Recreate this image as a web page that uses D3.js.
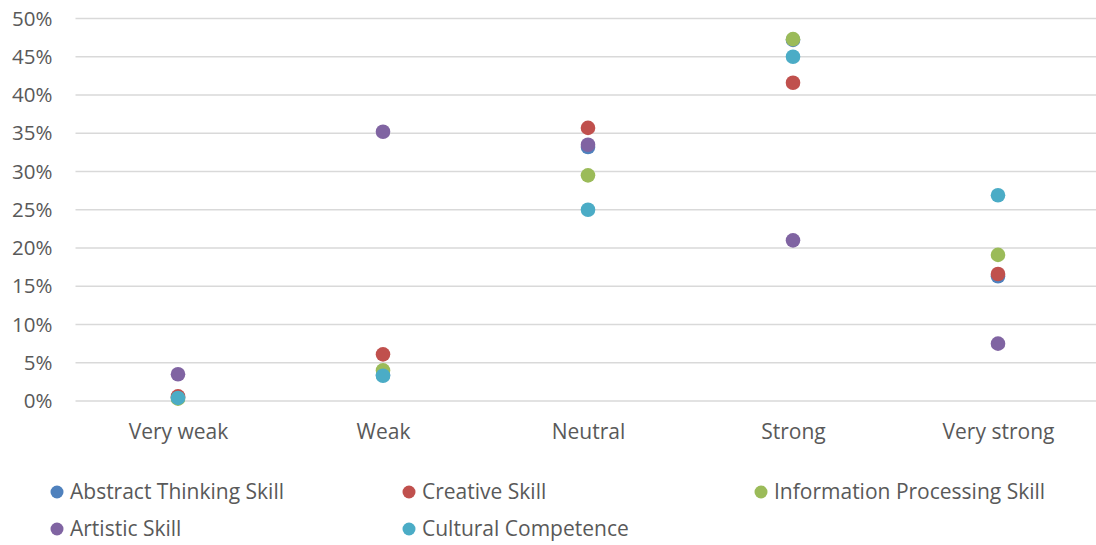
<!DOCTYPE html>
<html>
<head>
<meta charset="utf-8">
<script src="https://cdn.jsdelivr.net/npm/d3@7"></script>
<style>
  html, body { margin: 0; padding: 0; background: #fff; }
  svg { display: block; font-family: "Open Sans", "Noto Sans", sans-serif; }
</style>
</head>
<body>
<svg id="chart" width="1096" height="545"></svg>
<script>
// Response categories along the x axis
const categories = ["Very weak", "Weak", "Neutral", "Strong", "Very strong"];

// Share of respondents per category (%) for each skill
const abstractThinking = [0.5, 3.4, 33.2, 47.2, 16.3];
const creative         = [0.6, 6.1, 35.7, 41.6, 16.6];
const infoProcessing   = [0.3, 4.0, 29.5, 47.3, 19.1];
const artistic         = [3.5, 35.2, 33.5, 21.0, 7.5];
const cultural         = [0.4, 3.3, 25.0, 45.0, 26.9];

const seriesNames  = ["Abstract Thinking Skill", "Creative Skill", "Information Processing Skill", "Artistic Skill", "Cultural Competence"];
const seriesValues = [abstractThinking, creative, infoProcessing, artistic, cultural];
const seriesColors = ["#4F81BD", "#C0504D", "#9BBB59", "#8064A2", "#4BACC6"];

const yTicks = [0, 5, 10, 15, 20, 25, 30, 35, 40, 45, 50];

const svg = d3.select("#chart");
const plotLeft = 75.5, plotRight = 1100.5, plotTop = 18.5, plotBottom = 401;
const labelFont = "'Open Sans', sans-serif";

const x = d3.scalePoint().domain(categories).range([plotLeft, plotRight]).padding(0.5);
const y = d3.scaleLinear().domain([0, 50]).range([plotBottom, plotTop]);

// Horizontal gridlines
svg.append("g")
  .selectAll("line")
  .data(yTicks)
  .join("line")
  .attr("x1", plotLeft).attr("x2", 1096)
  .attr("y1", d => y(d)).attr("y2", d => y(d))
  .attr("stroke", "#d9d9d9")
  .attr("stroke-width", 1.3);

// Y axis labels
const yAxis = svg.append("g")
  .attr("transform", `translate(${plotLeft - 23},0)`)
  .call(d3.axisLeft(y).tickValues(yTicks).tickFormat(d => d + "%").tickSize(0).tickPadding(0));
yAxis.select(".domain").remove();
yAxis.selectAll("text")
  .attr("fill", "#595959")
  .style("font-size", "20.5px")
  .style("font-family", labelFont);

// X axis labels
const xAxis = svg.append("g")
  .attr("transform", `translate(0,${plotBottom})`)
  .call(d3.axisBottom(x).tickSize(0).tickPadding(23));
xAxis.select(".domain").remove();
xAxis.selectAll("text")
  .attr("fill", "#595959")
  .style("font-size", "21px")
  .style("font-family", labelFont);

// Points, one group per series
seriesValues.forEach((vals, i) => {
  svg.append("g")
    .selectAll("circle")
    .data(vals.map((v, j) => ({ cat: categories[j], v })))
    .join("circle")
    .attr("cx", d => x(d.cat))
    .attr("cy", d => y(d.v))
    .attr("r", 7.3)
    .attr("fill", seriesColors[i]);
});

// Legend
const legendPos = [
  [57, 492], [409, 492], [761, 492],
  [57, 529], [409, 529]
];
const legend = svg.append("g")
  .selectAll("g")
  .data(seriesNames)
  .join("g")
  .attr("transform", (d, i) => `translate(${legendPos[i][0]},${legendPos[i][1]})`);
legend.append("circle")
  .attr("r", 6.5)
  .attr("fill", (d, i) => seriesColors[i]);
legend.append("text")
  .attr("x", 13)
  .attr("dy", "0.35em")
  .attr("fill", "#595959")
  .style("font-size", "21px")
  .style("font-family", labelFont)
  .text(d => d);
</script>
</body>
</html>
